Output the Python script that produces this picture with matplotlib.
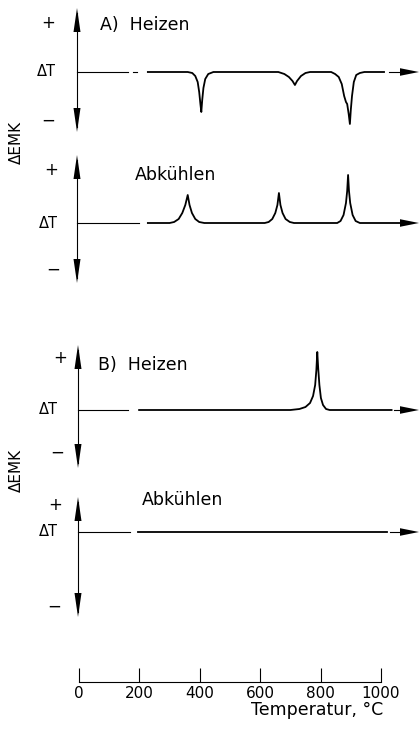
import numpy as np
import matplotlib.pyplot as plt

# Temperaturskala
temp_ticks = [0, 200, 400, 600, 800, 1000]

# A) Heizen: Temperatur (degC) und Ausschlag (nach oben positiv)
a_heat_t = [228, 360, 375, 385, 393, 398, 402, 405, 408, 412, 418, 428, 445,
            660, 680, 695, 707, 715, 722, 735, 750, 765,
            835, 848, 860, 870, 878, 884, 888, 893, 897, 900, 904, 910, 918, 930, 945, 1010]
a_heat_dt = [0, 0, -1, -4, -10, -20, -32, -40, -28, -16, -7, -2, 0,
             0, -2, -5, -9, -13, -9, -4, -1, 0,
             0, -2, -5, -12, -24, -30, -32, -42, -52, -38, -24, -10, -3, -1, 0, 0]

# A) Abkuehlen
a_cool_t = [228, 300, 315, 330, 342, 352, 360, 366, 374, 385, 398, 415,
            615, 628, 640, 650, 657, 662, 667, 674, 684, 698, 712,
            855, 866, 876, 884, 888, 891, 894, 898, 906, 916, 930, 1060]
a_cool_dt = [0, 0, 1, 4, 10, 18, 28, 18, 10, 4, 1, 0,
             0, 1, 4, 10, 18, 30, 18, 10, 4, 1, 0,
             0, 2, 8, 20, 32, 48, 32, 20, 8, 2, 0, 0]

# B) Heizen
b_heat_t = [199, 700, 730, 750, 765, 775, 782, 786, 789, 792, 796, 801, 808, 818, 830, 1035]
b_heat_dt = [0, 0, 1, 3, 7, 14, 25, 40, 58, 42, 25, 12, 5, 1, 0, 0]

# B) Abkuehlen
b_cool_t = [197, 1020]
b_cool_dt = [0, 0]

# Layout in Pixeln
W, H = 420, 736
X0, PX = 79.0, 0.302          # Pixel von 0 degC, Pixel pro degC


def px2t(px):
    return (px - X0) / PX


def v_arrow(ax, x, y_top, y_bot, head=24, hw=3.5):
    xt = px2t(x)
    ax.plot([xt, xt], [y_top + 5, y_bot - 5], color="black", lw=0.8)
    d = hw / PX
    ax.fill([xt - d, xt + d, xt], [y_top + head, y_top + head, y_top], color="black", lw=0)
    ax.fill([xt - d, xt + d, xt], [y_bot - head, y_bot - head, y_bot], color="black", lw=0)


def h_arrow(ax, y, x0=400, x1=419, hh=3.8):
    ax.fill([px2t(x0), px2t(x0), px2t(x1)], [y - hh, y + hh, y], color="black", lw=0)


def main():
    fig = plt.figure(figsize=(W / 100, H / 100), dpi=100)
    ax = fig.add_axes([0, 0, 1, 1])
    ax.set_xlim(px2t(0), px2t(W))
    ax.set_ylim(H, 0)

    panels = [
        # baseline, curve, left part, right dash, vertical axis
        (72, a_heat_t, a_heat_dt, (-5, 162), (179, 192), (1025, 1058), (77, 8, 132)),
        (223, a_cool_t, a_cool_dt, (-5, 200), None, None, (77, 155, 283)),
        (410, b_heat_t, b_heat_dt, (-3, 162), None, (1042, 1058), (78, 345, 468)),
        (532, b_cool_t, b_cool_dt, (-3, 168), None, (1030, 1058), (78, 497, 617)),
    ]
    for base, t, dt, left, dot, dash, vax in panels:
        ax.plot(t, base - np.array(dt), color="black", lw=1.3, solid_joinstyle="round")
        ax.plot(left, [base, base], color="black", lw=0.8)
        if dot:
            ax.plot(dot, [base, base], color="black", lw=0.8)
        if dash:
            ax.plot(dash, [base, base], color="black", lw=0.8)
        h_arrow(ax, base)
        v_arrow(ax, *vax)

    fs = 12.5
    ax.text(px2t(100), 25, "A)  Heizen", fontsize=fs, va="center", ha="left")
    ax.text(px2t(135), 175, "Abkühlen", fontsize=fs, va="center", ha="left")
    ax.text(px2t(98), 365, "B)  Heizen", fontsize=fs, va="center", ha="left")
    ax.text(px2t(142), 500, "Abkühlen", fontsize=fs, va="center", ha="left")

    signs = [("+", 48, 23), ("ΔT", 46, 72), ("−", 48, 121),
             ("+", 51, 170), ("ΔT", 48, 224), ("−", 53, 270),
             ("+", 60, 358), ("ΔT", 48, 410), ("−", 57, 453),
             ("+", 55, 505), ("ΔT", 48, 532), ("−", 54, 607)]
    for s, x, y in signs:
        ax.text(px2t(x), y, s, fontsize=12 if s != "ΔT" else 10.5, ha="center", va="center")

    ax.text(px2t(16), 142, "ΔEMK", fontsize=11, rotation=90, ha="center", va="center")
    ax.text(px2t(16), 470, "ΔEMK", fontsize=11, rotation=90, ha="center", va="center")

    # Temperaturachse
    for s in ["top", "right", "left"]:
        ax.spines[s].set_visible(False)
    ax.spines["bottom"].set_position(("data", 682))
    ax.spines["bottom"].set_bounds(0, 1000)
    ax.spines["bottom"].set_linewidth(0.8)
    ax.set_xticks(temp_ticks)
    ax.set_yticks([])
    ax.tick_params(axis="x", direction="in", length=10, width=0.8, pad=3, labelsize=11)
    ax.text(px2t(317), 710, "Temperatur, °C", fontsize=12.5, ha="center", va="center")

    plt.savefig("out.png", dpi=100)


if __name__ == "__main__":
    main()
